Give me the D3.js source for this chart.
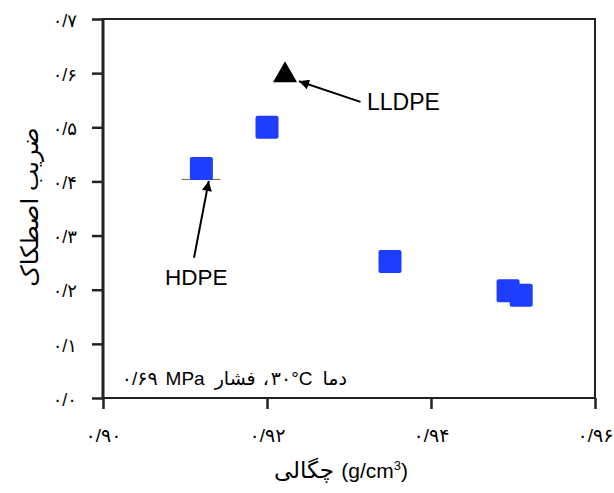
<!DOCTYPE html>
<html><head><meta charset="utf-8">
<script src="https://cdn.jsdelivr.net/npm/d3@7"></script>
<style>
html,body{margin:0;padding:0;background:#fff;}
svg{display:block;}
text{font-family:"Liberation Sans", Arial, "DejaVu Sans", sans-serif;}
</style>
</head><body>
<svg id="c" width="614" height="493"></svg>
<script>
// Data
const hdpeDensity = [0.912, 0.920, 0.935, 0.9494, 0.951];
const hdpeFriction = [0.424, 0.500, 0.252, 0.198, 0.190];
const lldpeDensity = [0.9222];
const lldpeFriction = [0.598];
const xTicks = [0.90, 0.92, 0.94, 0.96];
const xTickLabels = ["۰/۹۰", "۰/۹۲", "۰/۹۴", "۰/۹۶"];
const yTicks = [0, 0.1, 0.2, 0.3, 0.4, 0.5, 0.6, 0.7];
const yTickLabels = ["۰/۰", "۰/۱", "۰/۲", "۰/۳", "۰/۴", "۰/۵", "۰/۶", "۰/۷"];
const xTitle = "چگالی";
const xUnit = "(g/cm";
const yTitle = "ضریب اصطکاک";
// note pieces in visual left-to-right order ("دما ۳۰°C، فشار ۰/۶۹ MPa")
const notePieces = ["۰/۶۹", "MPa", "فشار", "،", "۳۰°C", "دما"];
// annotation arrows in data units: [tailX, tailY, tipX, tipY]
const arrowHDPE = [0.9111, 0.259, 0.9129, 0.401];
const arrowLLDPE = [0.9314, 0.547, 0.9239, 0.585];

const svg = d3.select("#c");
const x = d3.scaleLinear().domain([0.90, 0.96]).range([103, 595]);
const y = d3.scaleLinear().domain([0, 0.7]).range([398, 19]);
const fa = "'DejaVu Sans', sans-serif";

// frame
svg.append("rect").attr("x", x(0.90)).attr("y", y(0.7))
  .attr("width", x(0.96) - x(0.90)).attr("height", y(0) - y(0.7))
  .attr("fill", "none").attr("stroke", "#222").attr("stroke-width", 2);

// axes
const xAxis = d3.axisBottom(x).tickValues(xTicks).tickSize(11).tickPadding(14)
  .tickFormat((d, i) => xTickLabels[i]);
const gx = svg.append("g").attr("transform", `translate(0,${y(0)})`).call(xAxis);
gx.select(".domain").remove();
gx.selectAll(".tick line").attr("stroke", "#222").attr("stroke-width", 2.5);
gx.selectAll(".tick text").attr("font-size", 19).attr("fill", "#000").attr("letter-spacing", 2)
  .attr("font-family", fa).attr("direction", "ltr").attr("y", 44).attr("dy", null);

const yAxis = d3.axisLeft(y).tickValues(yTicks).tickSize(11).tickPadding(15)
  .tickFormat((d, i) => yTickLabels[i]);
const gy = svg.append("g").attr("transform", `translate(${x(0.90)},0)`).call(yAxis);
gy.select(".domain").attr("stroke", "#222").attr("stroke-width", 3).attr("d", `M0,${y(0.7)}V${y(0)}`);
gy.selectAll(".tick line").attr("stroke", "#222").attr("stroke-width", 2.5);
gy.selectAll(".tick text").attr("font-size", 18).attr("fill", "#000")
  .attr("font-family", fa).attr("direction", "ltr").attr("dy", "0.4em");

// titles
const xt = svg.append("text").attr("x", 341).attr("y", 478).attr("text-anchor", "middle")
  .attr("font-size", 21).attr("direction", "ltr").attr("fill", "#000");
xt.append("tspan").attr("font-family", fa).attr("font-size", 23).text(xTitle + " ");
xt.append("tspan").text(xUnit);
xt.append("tspan").attr("font-size", 13).attr("dy", -8).text("3");
xt.append("tspan").attr("dy", 8).text(")");

svg.append("text").attr("transform", "translate(38,207) rotate(-90)")
  .attr("text-anchor", "middle").attr("font-size", 24)
  .attr("font-family", fa).attr("fill", "#000").text(yTitle);

// note, laid out right to left from its right edge
const noteG = svg.append("g");
let cursor = 347;
const gaps = [8, 10, 7, 2, 10];
for (let i = notePieces.length - 1; i >= 0; i--) {
  const isLatin = /[A-Za-z]/.test(notePieces[i]);
  const t = noteG.append("text").attr("y", 385).attr("font-size", 19)
    .attr("font-family", isLatin ? "'Liberation Sans', Arial, sans-serif" : fa)
    .attr("direction", "ltr").attr("fill", "#000").text(notePieces[i]);
  const w = t.node().getComputedTextLength();
  cursor -= w;
  t.attr("x", cursor);
  cursor -= i > 0 ? gaps[i - 1] : 0;
}

// thin line under HDPE marker
svg.append("line").attr("x1", x(0.9096)).attr("x2", x(0.9143))
  .attr("y1", y(0.4037)).attr("y2", y(0.4037)).attr("stroke", "#666").attr("stroke-width", 1);

// squares
const s = 23;
svg.selectAll("rect.pt").data(hdpeDensity).enter().append("rect").attr("class", "pt")
  .attr("x", d => x(d) - s / 2).attr("y", (d, i) => y(hdpeFriction[i]) - s / 2)
  .attr("width", s).attr("height", s).attr("rx", 2)
  .attr("fill", "#1f3dfd");

// triangle
const tri = d3.symbol().type(d3.symbolTriangle).size(250);
svg.selectAll("path.tri").data(lldpeDensity).enter().append("path").attr("class", "tri")
  .attr("transform", (d, i) => `translate(${x(d)},${y(lldpeFriction[i]) + 1})`)
  .attr("d", tri).attr("fill", "#000");

// arrows
svg.append("defs").append("marker").attr("id", "ah").attr("viewBox", "0 0 10 10")
  .attr("refX", 10).attr("refY", 5).attr("markerWidth", 14).attr("markerHeight", 10)
  .attr("markerUnits", "userSpaceOnUse").attr("orient", "auto")
  .append("path").attr("d", "M0,0L10,5L0,10Z").attr("fill", "#000");
[arrowHDPE, arrowLLDPE].forEach(a => {
  svg.append("line").attr("x1", x(a[0])).attr("y1", y(a[1]))
    .attr("x2", x(a[2])).attr("y2", y(a[3]))
    .attr("stroke", "#000").attr("stroke-width", 2).attr("marker-end", "url(#ah)");
});

svg.append("text").attr("x", 367).attr("y", 110).attr("font-size", 23).attr("fill", "#000").text("LLDPE");
svg.append("text").attr("x", 165).attr("y", 285).attr("font-size", 22.5).attr("fill", "#000").text("HDPE");
</script>
</body></html>
